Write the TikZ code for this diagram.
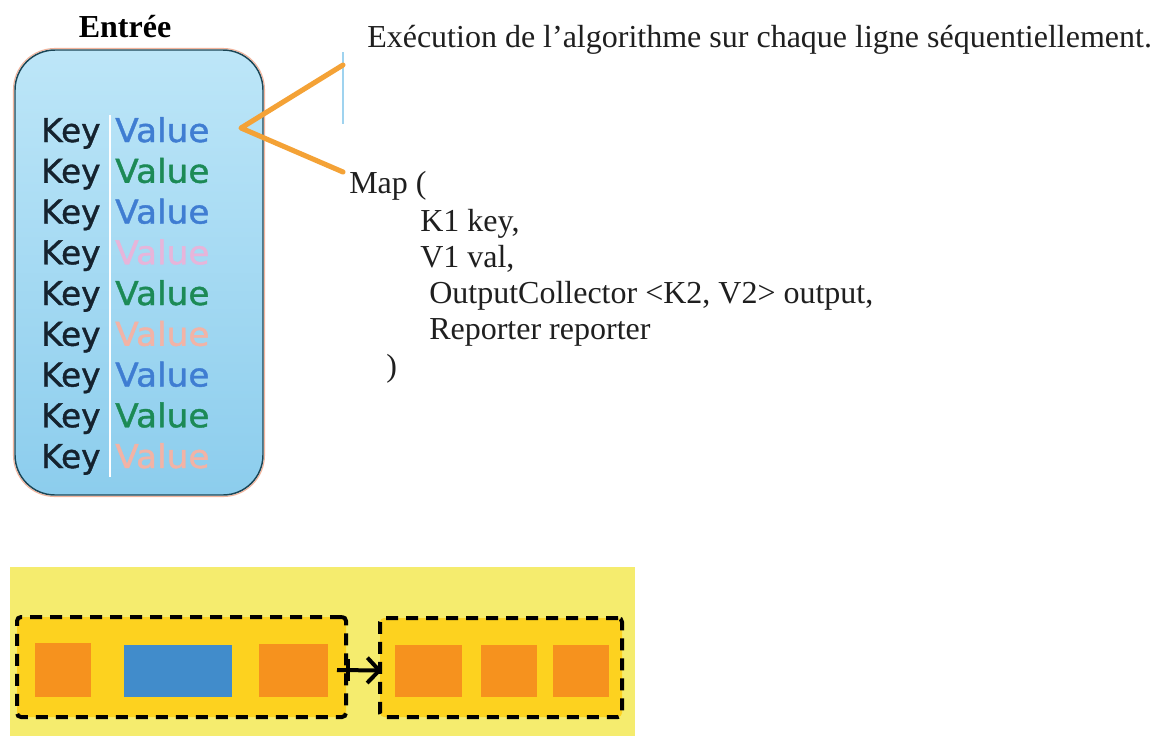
\documentclass[tikz,border=0pt]{standalone}
\usepackage{fontspec}
\setmainfont{Liberation Serif}
\newfontfamily\kvfont[FakeBold=1.2]{DejaVu Sans}
\usetikzlibrary{arrows.meta,fit,calc}

\definecolor{boxtop}{HTML}{BDE6F8}
\definecolor{boxbot}{HTML}{8CCDED}
\definecolor{boxrim}{HTML}{1B4656}
\definecolor{rimglow}{HTML}{F2B49C}
\definecolor{keyink}{HTML}{15222E}
\definecolor{vblue}{HTML}{3F7DD2}
\definecolor{vgreen}{HTML}{1C8A56}
\definecolor{vpink}{HTML}{E7B5DA}
\definecolor{vsalmon}{HTML}{F2B3A6}
\definecolor{pointer}{HTML}{F4A236}
\definecolor{paleblue}{HTML}{9FD3EF}
\definecolor{lemon}{HTML}{F5EC6E}
\definecolor{gold}{HTML}{FDD21F}
\definecolor{blockorange}{HTML}{F6921E}
\definecolor{blockblue}{HTML}{418CCB}

\newcommand\kvstretch[1]{\scalebox{1.05}[1]{#1}}

\begin{document}
\begin{tikzpicture}[x=0.75pt,y=-0.75pt,
  serif/.style={inner sep=0pt,anchor=base west,font=\fontsize{24}{28}\selectfont,text=black!88},
  keytxt/.style={inner sep=0pt,anchor=base west,text=keyink,font=\kvfont\fontsize{24.5}{27}\selectfont},
  valtxt/.style={inner sep=0pt,anchor=base west,font=\kvfont\fontsize{24.5}{27}\selectfont},
  inputbox/.style={inner sep=0pt,rounded corners=30pt,top color=boxtop,bottom color=boxbot,draw=boxrim,line width=1.1pt},
  pointerline/.style={draw=pointer,line width=3.8pt,line join=round,line cap=round},
  dashbox/.style={inner sep=0pt,fill=gold,draw=black,line width=3pt,dash pattern=on 9pt off 6pt,rounded corners=3pt},
  orangeblock/.style={inner sep=0pt,fill=blockorange},
  blueblock/.style={inner sep=0pt,fill=blockblue},
  flowarrow/.style={draw=black,line width=3pt,-{Straight Barb[length=9pt,width=19pt,line width=3pt]}}
]
\useasboundingbox (0,0) rectangle (1156,736);
\fill[white] (0,0) rectangle (1156,736);

% ---- input record box ----
\node[inner sep=0pt,rounded corners=31pt,draw=rimglow,line width=0.8pt,fit={(13.5,48.5) (264.5,496.5)}] (glow) {};
\node[inputbox,fit={(15,50) (263,495)}] (inbox) {};
\draw[white,line width=1.6pt] (110,115) -- (110,477);

\node[font=\bfseries\fontsize{24}{28}\selectfont,inner sep=0pt,anchor=base] (title) at (125,37) {Entrée};

% key / value rows
\foreach \i/\c in {1/vblue,2/vgreen,3/vblue,4/vpink,5/vgreen,6/vsalmon,7/vblue,8/vgreen,9/vsalmon}{
  \node[keytxt] (k\i) at (41,{142+40.75*(\i-1)}) {Key};
  \node[valtxt,text=\c] (v\i) at (115,{142+40.75*(\i-1)}) {\kvstretch{Value}};
}

% ---- pointer towards the map call ----
\draw[paleblue,line width=1.5pt] (343,52) -- (343,124);
\coordinate (ptr) at (241,128);
\coordinate (ptrtop) at (343,65);
\coordinate (ptrbot) at (343,172);
\draw[pointerline] (ptrtop) -- (ptr) -- (ptrbot);

% ---- description and signature ----
\node[serif] (caption) at (367,47) {Exécution de l’algorithme sur chaque ligne séquentiellement.};
\node[serif] (sig0) at (349,193) {Map (};
\node[serif] (sig1) at (420,231) {K1 key,};
\node[serif] (sig2) at (420,267) {V1 val,};
\node[serif] (sig3) at (429,303) {OutputCollector <K2, V2> output,};
\node[serif] (sig4) at (429,339) {Reporter reporter};
\node[serif] (sig5) at (386,376) {)};

% ---- split blocks ----
\fill[lemon] (10,567) rectangle (635,736);
\node[dashbox,fit={(17,617) (346,717)}] (lbox) {};
\node[dashbox,fit={(380,618) (622,717)}] (rbox) {};

\node[orangeblock,fit={(35,643) (91,697)}] (b1) {};
\node[blueblock,fit={(124,645) (232,697)}] (b2) {};
\node[orangeblock,fit={(259,644) (328,697)}] (b3) {};
\node[orangeblock,fit={(395,645) (462,697)}] (b4) {};
\node[orangeblock,fit={(481,645) (537,697)}] (b5) {};
\node[orangeblock,fit={(553,645) (609,697)}] (b6) {};

\draw[black,line width=3pt] ($(lbox.east)+(0,-8)$) -- ($(lbox.east)+(0,14)$);
\draw[flowarrow] ($(lbox.east)+(-11,3)$) -- ($(rbox.west)+(4,3)$);
\end{tikzpicture}
\end{document}
